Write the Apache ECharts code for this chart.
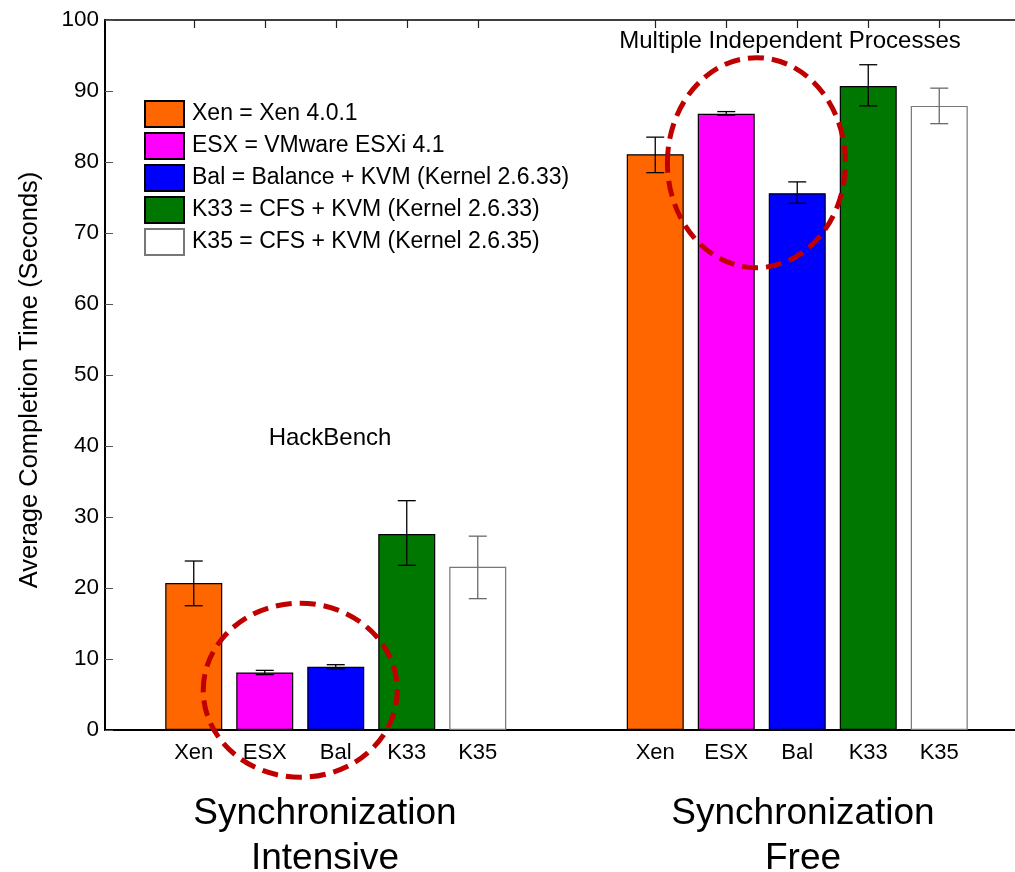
<!DOCTYPE html>
<html><head><meta charset="utf-8">
<script src="https://cdn.jsdelivr.net/npm/echarts@6/dist/echarts.min.js"></script>
<style>html,body{margin:0;padding:0;background:#fff}#c{width:1015px;height:872px}</style>
</head><body><div id="c"></div>
<script>
// ---------- data ----------
const systems = ['Xen', 'ESX', 'Bal', 'K33', 'K35'];
const legendLabels = [
  'Xen = Xen 4.0.1',
  'ESX = VMware ESXi 4.1',
  'Bal = Balance + KVM (Kernel 2.6.33)',
  'K33 = CFS + KVM (Kernel 2.6.33)',
  'K35 = CFS + KVM (Kernel 2.6.35)'
];
const groupLabels = ['Synchronization\nIntensive', 'Synchronization\nFree'];
const benchLabels = ['HackBench', 'Multiple Independent Processes'];
const intensiveMeans = [20.7, 8.1, 8.9, 27.6, 23.0];
const intensiveLow   = [17.5, 7.8, 8.6, 23.2, 18.5];
const intensiveHigh  = [23.8, 8.4, 9.2, 32.3, 27.3];
const freeMeans = [81.1, 86.8, 75.6, 90.7, 87.9];
const freeLow   = [78.5, 86.6, 74.2, 87.9, 85.4];
const freeHigh  = [83.5, 87.1, 77.2, 93.7, 90.4];
const yMin = 0, yMax = 100, yStep = 10;

// ---------- layout (slots on a category axis) ----------
const SLOT_COUNT = 26;
const groupStart = [2, 15];
const slotStep = 2;
const colors = ['#FF6600', '#FF00FF', '#0000FF', '#007700', '#FFFFFF'];
const borders = ['#000', '#000', '#000', '#000', '#777'];
const errColors = ['#000', '#000', '#000', '#000', '#6a6a6a'];

const slotLabels = new Array(SLOT_COUNT).fill('');
const labeled = new Array(SLOT_COUNT).fill(false);
groupStart.forEach(g => systems.forEach((s, i) => { slotLabels[g + i * slotStep] = s; labeled[g + i * slotStep] = true; }));

const groupData = [
  {means: intensiveMeans, low: intensiveLow, high: intensiveHigh},
  {means: freeMeans, low: freeLow, high: freeHigh}
];

const barSeries = systems.map((s, i) => {
  const d = new Array(SLOT_COUNT).fill('-');
  groupData.forEach((g, gi) => { d[groupStart[gi] + i * slotStep] = g.means[i]; });
  return {
    name: legendLabels[i], type: 'bar', data: d, barWidth: 57, barGap: '-100%',
    itemStyle: {color: colors[i], borderColor: borders[i], borderWidth: 1.2},
    emphasis: {disabled: true}, z: 2
  };
});

const errData = [];
groupData.forEach((g, gi) => systems.forEach((s, i) => {
  errData.push([groupStart[gi] + i * slotStep, g.low[i], g.high[i], i]);
}));

// ellipse annotations: [slot position, value, rx, ry]
const ellipses = [[5, 5.6, 97, 87], [17.85, 79.9, 89, 105]];

const chart = echarts.init(document.getElementById('c'));
const ff = '"Liberation Sans", Arial, Helvetica, sans-serif';

const tickCommon = {show: true, inside: true, length: 8, alignWithLabel: true, interval: (i) => labeled[i], lineStyle: {color: '#222', width: 1.2}};

chart.setOption({
  animation: false,
  backgroundColor: '#fff',
  textStyle: {fontFamily: ff},
  grid: {left: 105, top: 20, right: -13, bottom: 142, containLabel: false, outerBoundsMode: 'none'},
  legend: {
    orient: 'vertical', left: 144, top: 100, padding: 0, itemWidth: 39, itemHeight: 26, itemGap: 4,
    icon: 'rect', selectedMode: false,
    textStyle: {fontSize: 23, lineHeight: 26, color: '#000', fontFamily: ff, padding: [0, 0, 0, 3]},
    data: legendLabels
  },
  xAxis: [{
    type: 'category', data: slotLabels, position: 'bottom',
    axisLine: {lineStyle: {color: '#000', width: 2}},
    axisTick: tickCommon,
    axisLabel: {interval: 0, fontSize: 22, color: '#000', margin: 12, fontFamily: ff},
    splitLine: {show: false}
  }, {
    type: 'category', data: slotLabels, position: 'top',
    axisLine: {lineStyle: {color: '#000', width: 1.5}},
    axisTick: tickCommon,
    axisLabel: {show: false},
    splitLine: {show: false}
  }],
  yAxis: {
    type: 'value', min: yMin, max: yMax, interval: yStep,
    name: 'Average Completion Time (Seconds)', nameLocation: 'middle', nameGap: 62,
    nameTextStyle: {fontSize: 25.5, color: '#000', fontFamily: ff, padding: [0, 10, 0, 0]},
    axisLine: {show: true, lineStyle: {color: '#000', width: 2}},
    axisTick: {show: true, inside: true, length: 8, lineStyle: {color: '#555'}},
    axisLabel: {fontSize: 22.5, color: '#000', margin: 6, fontFamily: ff},
    splitLine: {show: false}
  },
  series: barSeries.concat([{
    type: 'custom', name: 'err', z: 5, clip: false, silent: true,
    encode: {x: 0, y: [1, 2]},
    data: errData,
    renderItem(params, api) {
      const x = api.value(0);
      const pLo = api.coord([x, api.value(1)]);
      const pHi = api.coord([x, api.value(2)]);
      const c = errColors[api.value(3)];
      const w = 9, st = {stroke: c, lineWidth: 1.3};
      return {type: 'group', children: [
        {type: 'line', shape: {x1: pLo[0], y1: pLo[1], x2: pHi[0], y2: pHi[1]}, style: st},
        {type: 'line', shape: {x1: pLo[0] - w, y1: pLo[1], x2: pLo[0] + w, y2: pLo[1]}, style: st},
        {type: 'line', shape: {x1: pHi[0] - w, y1: pHi[1], x2: pHi[0] + w, y2: pHi[1]}, style: st}
      ]};
    }
  }, {
    type: 'custom', name: 'ellipses', z: 10, clip: false, silent: true,
    encode: {x: 0, y: 1},
    data: ellipses.map(e => [e[0], e[1]]),
    renderItem(params, api) {
      const e = ellipses[params.dataIndex];
      const s = e[0], a = Math.floor(s), b = Math.ceil(s);
      const pa = api.coord([a, e[1]]), pb = api.coord([b, e[1]]);
      const t = b === a ? 0 : (s - a) / (b - a);
      const cx = pa[0] + (pb[0] - pa[0]) * t;
      return {type: 'ellipse', shape: {cx: cx, cy: pa[1], rx: e[2], ry: e[3]},
        style: {fill: 'none', stroke: '#C00000', lineWidth: 5, lineDash: [16, 8]}};
    }
  }]),
  graphic: [
    {type: 'text', x: 330, y: 438, style: {text: benchLabels[0], font: '24px ' + ff, fill: '#000', align: 'center', verticalAlign: 'middle'}},
    {type: 'text', x: 790, y: 41, style: {text: benchLabels[1], font: '24px ' + ff, fill: '#000', align: 'center', verticalAlign: 'middle'}},
    {type: 'text', x: 325, y: 836, style: {text: groupLabels[0], font: '37px ' + ff, lineHeight: 45, fill: '#000', align: 'center', verticalAlign: 'middle'}},
    {type: 'text', x: 803, y: 836, style: {text: groupLabels[1], font: '37px ' + ff, lineHeight: 45, fill: '#000', align: 'center', verticalAlign: 'middle'}}
  ]
});
</script>
</body></html>
